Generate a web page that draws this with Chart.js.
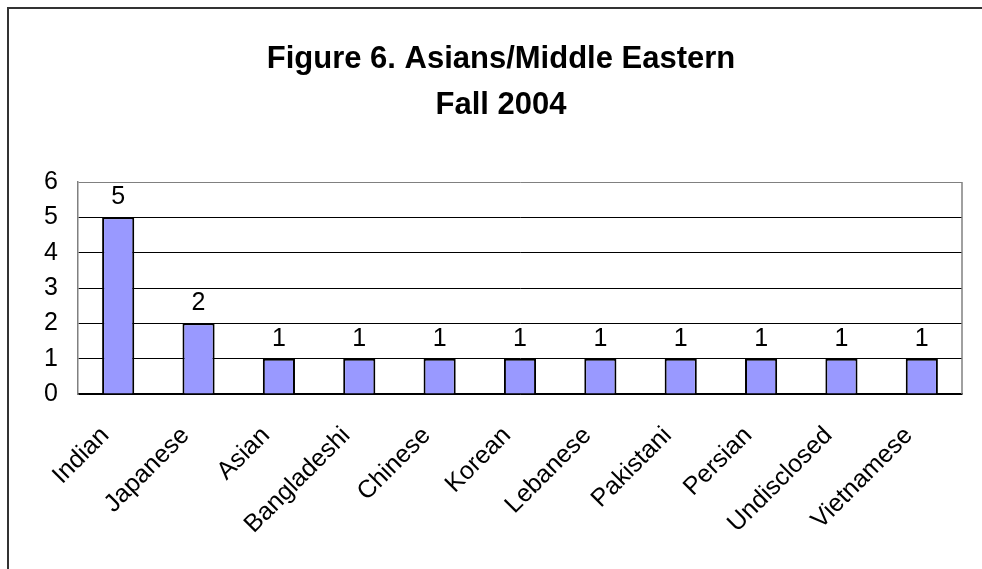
<!DOCTYPE html>
<html>
<head>
<meta charset="utf-8">
<script src="https://cdn.jsdelivr.net/npm/chart.js@4/dist/chart.umd.min.js"></script>
<style>
  html, body { margin: 0; padding: 0; background: #fff; }
  #wrap { width: 982px; height: 569px; position: relative; }
</style>
</head>
<body>
<div id="wrap"><canvas id="chart" width="982" height="569"></canvas></div>
<script>
const categories = ['Indian', 'Japanese', 'Asian', 'Bangladeshi', 'Chinese', 'Korean',
  'Lebanese', 'Pakistani', 'Persian', 'Undisclosed', 'Vietnamese'];
const counts = [5, 2, 1, 1, 1, 1, 1, 1, 1, 1, 1];
const titleLines = ['Figure 6. Asians/Middle Eastern', 'Fall 2004'];

const FONT = "'Liberation Sans', Arial, Helvetica, sans-serif";

// outer frame + plot border on the right
const framePlugin = {
  id: 'frame',
  beforeDraw(chart) {
    const ctx = chart.ctx;
    ctx.save();
    ctx.fillStyle = '#fff';
    ctx.fillRect(0, 0, chart.width, chart.height);
    ctx.strokeStyle = '#333';
    ctx.lineWidth = 2;
    ctx.beginPath();
    ctx.moveTo(8, chart.height);
    ctx.lineTo(8, 8);
    ctx.lineTo(chart.width, 8);
    ctx.stroke();
    ctx.restore();
  },
  afterDraw(chart) {
    const a = chart.chartArea;
    const ctx = chart.ctx;
    ctx.save();
    ctx.strokeStyle = '#808080';
    ctx.lineWidth = 1.5;
    ctx.beginPath();
    ctx.moveTo(a.right, a.top);
    ctx.lineTo(a.right, a.bottom);
    ctx.stroke();
    ctx.restore();
  }
};

const valueLabels = {
  id: 'valueLabels',
  afterDatasetsDraw(chart) {
    const ctx = chart.ctx;
    const meta = chart.getDatasetMeta(0);
    ctx.save();
    ctx.font = '25px ' + FONT;
    ctx.fillStyle = '#000';
    ctx.textAlign = 'center';
    ctx.textBaseline = 'alphabetic';
    meta.data.forEach((bar, i) => {
      ctx.fillText(String(counts[i]), bar.x, bar.y - 13);
    });
    ctx.restore();
  }
};

new Chart(document.getElementById('chart'), {
  type: 'bar',
  data: {
    labels: categories,
    datasets: [{
      data: counts,
      backgroundColor: '#9999FF',
      borderColor: '#000',
      borderWidth: 2,
      categoryPercentage: 1,
      barPercentage: 0.4
    }]
  },
  options: {
    responsive: false,
    animation: false,
    devicePixelRatio: 1,
    layout: { padding: { left: 40, right: 20, top: 0, bottom: 0 } },
    plugins: {
      legend: { display: false },
      tooltip: { enabled: false },
      title: {
        display: true,
        text: titleLines,
        color: '#000',
        font: { family: FONT, size: 31, weight: 'bold', lineHeight: 1.484 },
        padding: { top: 36, bottom: 54 }
      }
    },
    scales: {
      x: {
        grid: { display: false },
        border: { color: '#000', width: 1.5 },
        ticks: {
          color: '#000',
          font: { family: FONT, size: 25 },
          minRotation: 45,
          maxRotation: 45,
          autoSkip: false,
          padding: 19,
          labelOffset: -13
        },
        afterFit(scale) { scale.height = 175; }
      },
      y: {
        min: 0,
        max: 6,
        grid: {
          drawTicks: false,
          color: ctx => (ctx.tick && ctx.tick.value === 6) ? '#808080' : '#000',
          lineWidth: 1
        },
        border: { color: '#808080', width: 1.5 },
        ticks: {
          stepSize: 1,
          color: '#000',
          font: { family: FONT, size: 25 },
          padding: 20
        },
        afterFit(scale) { scale.width = 38; }
      }
    }
  },
  plugins: [framePlugin, valueLabels]
});
</script>
</body>
</html>
